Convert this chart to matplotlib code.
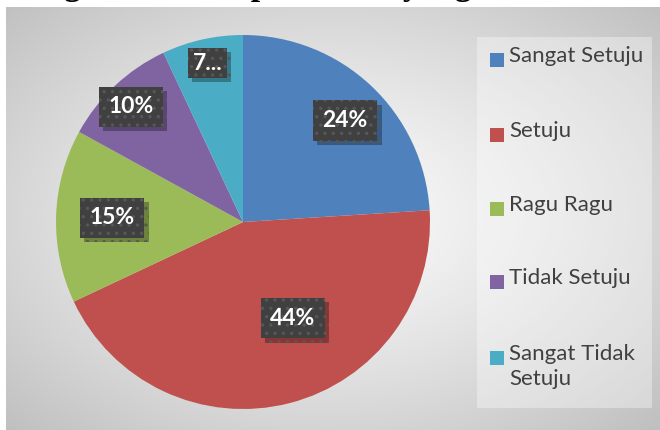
import numpy as np
import matplotlib.pyplot as plt
from matplotlib.patches import Rectangle
import matplotlib.patheffects as pe

kategori = ['Sangat Setuju', 'Setuju', 'Ragu Ragu', 'Tidak Setuju', 'Sangat Tidak\nSetuju']
persen = [24, 44, 15, 10, 7]
label_persen = ['24%', '44%', '15%', '10%', '7...']
warna = ['#4F81BD', '#C0504D', '#9BBB59', '#8064A2', '#4BACC6']
judul = 'Diagram 4.1 Respon Siswa yang Menilai'

# posisi label (jarak dari pusat, geser sudut) ala "best fit" excel
label_r = [0.77, 0.58, 0.70, 0.86, 0.87]
label_dsudut = [-2, 13, 0, 1, 0]

W, H = 660, 430
fig = plt.figure(figsize=(W / 100, H / 100), dpi=100)
fig.patch.set_facecolor('white')

# latar belakang area chart: gradasi radial
bg = fig.add_axes([0, 0, 1, 1])
bg.set_xlim(0, W)
bg.set_ylim(H, 0)
bg.axis('off')
x0, y0, x1, y1 = 6, 7, W, H
xx, yy = np.meshgrid(np.linspace(x0, x1, 300), np.linspace(y0, y1, 200))
cx, cy = 330, 215
d = np.sqrt(((xx - cx) / ((x1 - x0) / 2)) ** 2 + ((yy - cy) / ((y1 - y0) / 2)) ** 2) / np.sqrt(2)
g = (250 - 58 * d ** 1.3) / 255
bg.imshow(np.dstack([g, g, g]), extent=(x0, x1, y1, y0), aspect='auto', interpolation='bilinear', zorder=0)

# kotak legenda
bg.add_patch(Rectangle((477, 37), 175, 371, facecolor='white', alpha=0.35, edgecolor='none', zorder=1))
legend_y = [60, 135, 209, 282, 358]
for i, (k, c) in enumerate(zip(kategori, warna)):
    bg.add_patch(Rectangle((490, legend_y[i] - 7), 14, 14, facecolor=c, edgecolor='none', zorder=2))
    bg.text(509, legend_y[i] - 14, k, fontsize=16, color='#404040', family='Lato',
            va='top', ha='left', linespacing=1.3, zorder=2)

# judul yang terpotong di atas (hanya ekor huruf yang terlihat)
fig.text(14 / W, 1.0 + 5 / H, judul, fontsize=24, fontweight='bold', family='Liberation Serif',
         ha='left', va='baseline', color='black', zorder=5)

# pie
cxp, cyp, r = 243, 222, 187
ax = fig.add_axes([(cxp - r) / W, (H - cyp - r) / H, 2 * r / W, 2 * r / H])
ax.set_facecolor('none')
wedges, _ = ax.pie(persen, colors=warna, startangle=90, counterclock=False, radius=1,
                   wedgeprops=dict(linewidth=0))
ax.set_xlim(-1, 1)
ax.set_ylim(-1, 1)
ax.set_aspect('equal')
ax.axis('off')

plt.rcParams['hatch.color'] = '#585858'
plt.rcParams['hatch.linewidth'] = 1.2
for w, lab, rr, ds in zip(wedges, label_persen, label_r, label_dsudut):
    sudut = np.deg2rad((w.theta1 + w.theta2) / 2 + ds)
    pad = 0.2 if lab.endswith('...') else 0.42
    t = ax.text(rr * np.cos(sudut), rr * np.sin(sudut), lab, ha='center', va='center',
                fontsize=16.5, fontweight='bold', family='Lato', color='white',
                bbox=dict(boxstyle='square,pad=%s' % pad, facecolor='#404040',
                          edgecolor='#575757', linewidth=0, hatch='..'))
    t.get_bbox_patch().set_path_effects([
        pe.SimplePatchShadow(offset=(3, -3), alpha=0.3, shadow_rgbFace='black'),
        pe.Normal()])

fig.savefig('out.png', dpi=100)
